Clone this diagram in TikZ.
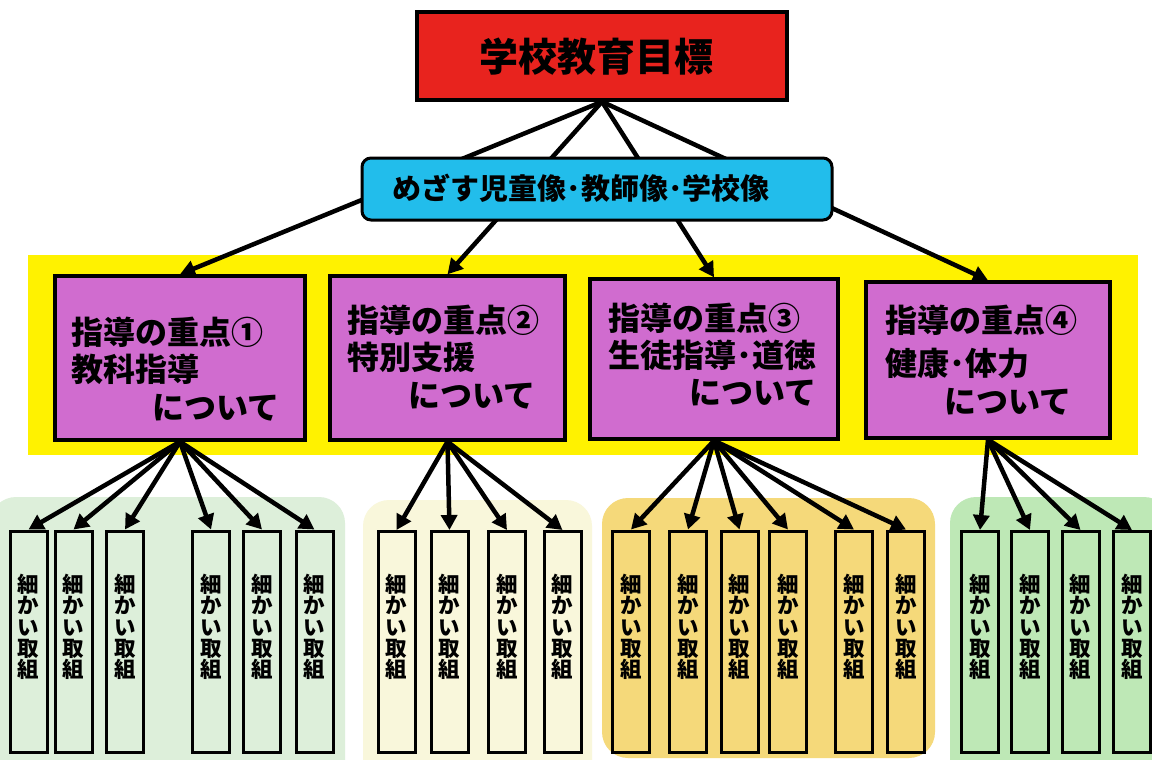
\documentclass[tikz,border=0pt]{standalone}
\usepackage{fontspec}
\setmainfont{Noto Sans CJK JP}
\usetikzlibrary{arrows.meta}
\definecolor{topred}{HTML}{E8231E}
\definecolor{visblue}{HTML}{22BDEB}
\definecolor{bandyellow}{HTML}{FFF200}
\definecolor{pointpink}{HTML}{D06CCF}
\definecolor{grpa}{HTML}{DDEFDA}
\definecolor{grpb}{HTML}{F9F7DB}
\definecolor{grpc}{HTML}{F5D97A}
\definecolor{grpd}{HTML}{BEE8B6}
\tikzset{
  boxline/.style={draw=black, line width=3.4pt},
  pointbox/.style={boxline, fill=pointpink, inner sep=0pt},
  pointtext/.style={anchor=west, inner sep=0pt, font=\bfseries\fontsize{32}{36}\selectfont},
  smallbox/.style={draw=black, line width=3pt, minimum width=37pt, minimum height=221pt, inner sep=0pt},
  smalltext/.style={inner sep=0pt, align=center, font=\bfseries\fontsize{21.5}{21.4}\selectfont},
  arr/.style={line width=4.5pt, -{Triangle[length=15pt,width=16pt]}},
  grpbg/.style={rounded corners=26pt, draw=none},
}
\begin{document}
\begin{tikzpicture}[x=1pt,y=-1pt]
\useasboundingbox (0,0) rectangle (1152,760);
\fill[white] (0,0) rectangle (1152,760);
% group backgrounds
\fill[grpbg, fill=grpa] (-10,497) rectangle (345,790);
\fill[grpbg, fill=grpb] (363,500) rectangle (592,790);
\fill[grpbg, fill=grpc] (602,498) rectangle (935,758);
\fill[grpbg, fill=grpd] (950,497) rectangle (1170,790);
% yellow band
\fill[bandyellow] (28,255) rectangle (1138,455);
% top box
\node[boxline, fill=topred, minimum width=370pt, minimum height=88pt, inner sep=0pt] (top) at (602,56) {};
\node[inner sep=0pt, font=\bfseries\fontsize{39}{44}\selectfont] (topT) at (596,57) {学校教育目標};
% point boxes
\node[pointbox, minimum width=250pt, minimum height=164pt] (p1) at (180,358) {};
\node[pointbox, minimum width=235pt, minimum height=164pt] (p2) at (447.5,358) {};
\node[pointbox, minimum width=248pt, minimum height=160pt] (p3) at (714,359) {};
\node[pointbox, minimum width=244pt, minimum height=156pt] (p4) at (988,360) {};
% connectors top -> points (behind the blue box)
\foreach \p in {p1,p2,p3,p4} { \draw[arr] (top.south) -- (\p.north); }
% vision box
\node[draw=black, line width=3pt, fill=visblue, rounded corners=9pt, minimum width=470pt,
      minimum height=62pt, inner sep=0pt] (vis) at (597,189) {};
\node[inner sep=0pt, font=\bfseries\fontsize{29}{32}\selectfont] (visT) at (581,188)
      {めざす児童像･教師像･学校像};
% point texts
\node[pointtext] (p1a) at (71,332) {指導の重点①};
\node[pointtext] (p1b) at (71,369) {教科指導};
\node[pointtext] (p1c) at (152,408) {について};
\node[pointtext] (p2a) at (347,320) {指導の重点②};
\node[pointtext] (p2b) at (347,357) {特別支援};
\node[pointtext] (p2c) at (408,396) {について};
\node[pointtext] (p3a) at (608,318) {指導の重点③};
\node[pointtext] (p3b) at (608,355) {生徒指導･道徳};
\node[pointtext] (p3c) at (689,393) {について};
\node[pointtext] (p4a) at (885,320) {指導の重点④};
\node[pointtext] (p4b) at (885,363) {健康･体力};
\node[pointtext] (p4c) at (944,402) {について};
% small boxes
\foreach \x [count=\i] in {28.5,73.5,125,211,262,314.5} {
  \node[smallbox] (a\i) at (\x,641.5) {};
  \node[smalltext] (at\i) at (\x,627) {細\\か\\い\\取\\組};
  \draw[arr] (p1.south) -- (a\i.north);
}
\foreach \x [count=\i] in {396.5,449.5,507,562.5} {
  \node[smallbox] (b\i) at (\x,642) {};
  \node[smalltext] (bt\i) at (\x,627) {細\\か\\い\\取\\組};
  \draw[arr] (p2.south) -- (b\i.north);
}
\foreach \x [count=\i] in {631,688,739.5,788,854,906} {
  \node[smallbox] (c\i) at (\x,641.5) {};
  \node[smalltext] (ct\i) at (\x,627) {細\\か\\い\\取\\組};
  \draw[arr] (p3.south) -- (c\i.north);
}
\foreach \x [count=\i] in {980,1030,1080.5,1132} {
  \node[smallbox] (d\i) at (\x,642) {};
  \node[smalltext] (dt\i) at (\x,627) {細\\か\\い\\取\\組};
  \draw[arr] (p4.south) -- (d\i.north);
}
\end{tikzpicture}
\end{document}
